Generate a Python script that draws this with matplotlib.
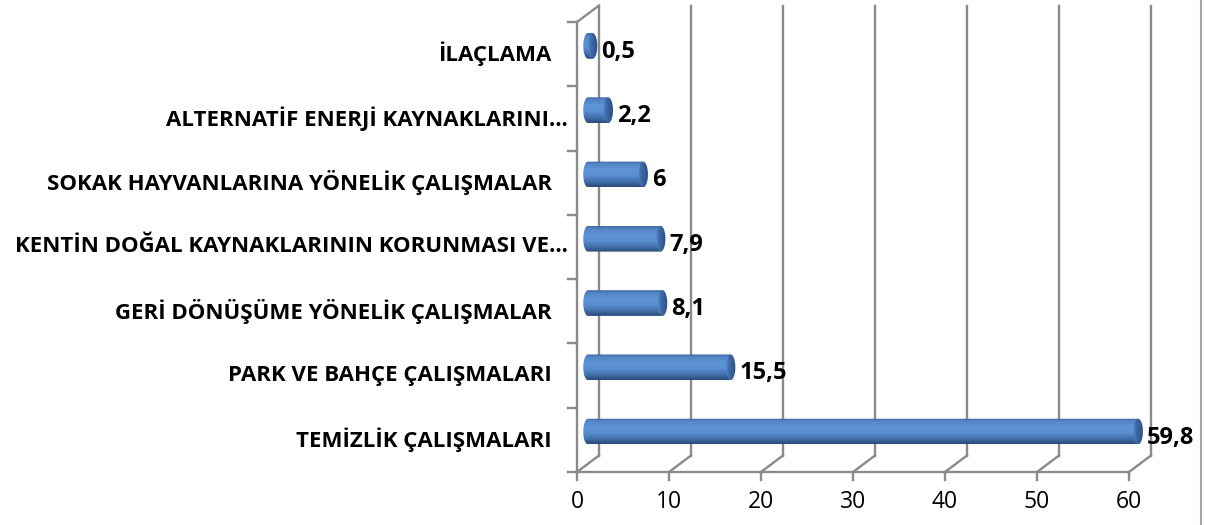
import matplotlib
matplotlib.use("Agg")
import matplotlib.pyplot as plt
import numpy as np
from matplotlib.patches import Polygon
from matplotlib.colors import LinearSegmentedColormap
from matplotlib.lines import Line2D

plt.rcParams['font.family'] = ['Open Sans', 'DejaVu Sans']

# categories from bottom to top
categories = ["TEMİZLİK ÇALIŞMALARI",
              "PARK VE BAHÇE ÇALIŞMALARI",
              "GERİ DÖNÜŞÜME YÖNELİK ÇALIŞMALAR",
              "KENTİN DOĞAL KAYNAKLARININ KORUNMASI VE…",
              "SOKAK HAYVANLARINA YÖNELİK ÇALIŞMALAR",
              "ALTERNATİF ENERJİ KAYNAKLARINI…",
              "İLAÇLAMA"]
values = [59.8, 15.5, 8.1, 7.9, 6, 2.2, 0.5]
value_labels = ["59,8", "15,5", "8,1", "7,9", "6", "2,2", "0,5"]
xticks = [0, 10, 20, 30, 40, 50, 60]

W, H = 1205, 525
fig = plt.figure(figsize=(W / 100, H / 100), dpi=100)

# front plane of the 3d box, in pixels
left_px, right_px, top_px, bot_px = 577, 1129, 22, 472
ax = fig.add_axes([left_px / W, (H - bot_px) / H,
                   (right_px - left_px) / W, (bot_px - top_px) / H])
xmax = 60
n = len(categories)
ax.set_xlim(0, xmax)
ax.set_ylim(-0.5, n - 0.5)
ax.axis('off')

ux = xmax / (right_px - left_px)      # data units per pixel (x)
uy = n / (bot_px - top_px)            # data units per pixel (y)
dx, dy = 22 * ux, 16.5 * uy           # depth of the box

grid_c = '#8a8a8a'
lw = 1.7
ybot, ytop = -0.5, n - 0.5

# back wall grid lines + floor diagonals + front floor ticks
for v in xticks:
    ax.plot([v + dx, v + dx], [ybot + dy, ytop + dy], color=grid_c, lw=lw, clip_on=False, zorder=1)
    ax.plot([v, v + dx], [ybot, ybot + dy], color=grid_c, lw=lw, clip_on=False, zorder=1)
    ax.plot([v, v], [ybot, ybot - 8 * uy], color=grid_c, lw=lw, clip_on=False, zorder=1)
    ax.text(v, ybot - 30 * uy, str(v), ha='center', va='center', fontsize=16.5, color='black')

# front floor edge
ax.plot([0, xmax], [ybot, ybot], color=grid_c, lw=lw, clip_on=False, zorder=1)
# left wall
ax.plot([0, 0], [ybot, ytop], color=grid_c, lw=lw, clip_on=False, zorder=1)
ax.plot([0, dx], [ytop, ytop + dy], color=grid_c, lw=lw, clip_on=False, zorder=1)
for k in range(n + 1):
    ax.plot([0, -9 * ux], [k - 0.5, k - 0.5], color=grid_c, lw=lw, clip_on=False, zorder=1)

# category labels
for i, lab in enumerate(categories):
    xr = -9 * ux if lab.endswith('…') else -25 * ux
    ax.text(xr, i, lab, ha='right', va='center', fontsize=16, fontweight='bold', color='black')

# cylinder bars
body_cmap = LinearSegmentedColormap.from_list('body', [
    (0.0, '#3d68a3'), (0.12, '#5586c7'), (0.35, '#5e94d8'),
    (0.55, '#5a8fd2'), (0.8, '#416fab'), (1.0, '#2a4a78')])
cap_cmap = LinearSegmentedColormap.from_list('cap', [
    (0.0, '#5a8ccd'), (0.3, '#3f6ca8'), (1.0, '#2c5186')])
grad = np.linspace(0, 1, 256).reshape(-1, 1)
hgrad = np.linspace(0, 1, 256).reshape(1, -1)

bh = 0.4
cap_w = 9.5 * ux
t = np.linspace(np.pi / 2, 3 * np.pi / 2, 40)
tt = np.linspace(0, 2 * np.pi, 80)
bars = ax.barh([i + dy / 2 for i in range(n)], values, height=bh, left=dx / 2,
               color='none', edgecolor='none', zorder=3)
for i, (rect, v) in enumerate(zip(bars.patches, values)):
    yc = rect.get_y() + bh / 2
    x0 = rect.get_x()
    x1 = x0 + rect.get_width()
    # body = left half ellipse + rectangle
    bx = np.concatenate([x0 + cap_w / 2 * np.cos(t), [x1, x1]])
    by = np.concatenate([yc + bh / 2 * np.sin(t), [yc - bh / 2, yc + bh / 2]])
    body = Polygon(np.column_stack([bx, by]), closed=True, facecolor='none', edgecolor='none')
    ax.add_patch(body)
    im = ax.imshow(grad, cmap=body_cmap, aspect='auto', origin='upper',
                   extent=[x0 - cap_w, x1, yc - bh / 2, yc + bh / 2],
                   interpolation='bilinear', zorder=3)
    im.set_clip_path(body)
    im.set_clip_box(fig.bbox)
    # end cap
    cap = Polygon(np.column_stack([x1 + cap_w / 2 * np.cos(tt), yc + bh / 2 * np.sin(tt)]),
                  closed=True, facecolor='none', edgecolor='none')
    ax.add_patch(cap)
    im = ax.imshow(hgrad, cmap=cap_cmap, aspect='auto', origin='upper',
                   extent=[x1 - cap_w / 2, x1 + cap_w / 2, yc - bh / 2, yc + bh / 2],
                   interpolation='bilinear', zorder=4)
    im.set_clip_path(cap)
    im.set_clip_box(fig.bbox)
    ax.text(x1 + cap_w / 2 + 4 * ux, yc - 6 * uy, value_labels[i], ha='left', va='center',
            fontsize=17, fontweight='bold', color='black', zorder=5)

ax.set_xlim(0, xmax)
ax.set_ylim(-0.5, n - 0.5)

# chart border on the right
fig.add_artist(Line2D([1201 / W, 1201 / W], [0, 1], transform=fig.transFigure,
                      color='#a6a6a6', lw=1.5))

fig.savefig('out.png', dpi=100)
